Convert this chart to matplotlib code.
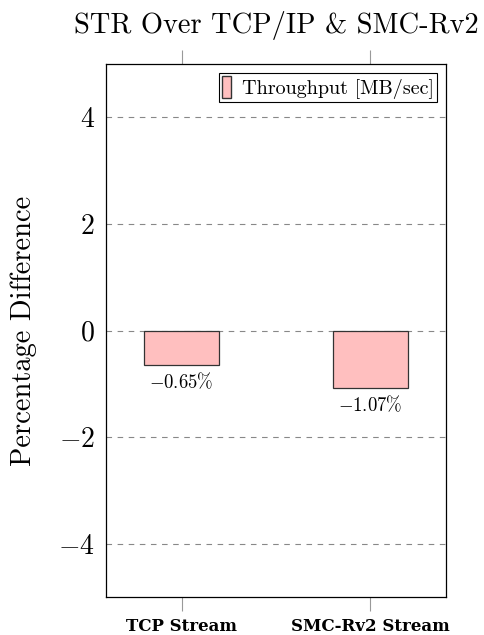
import numpy as np
import matplotlib
matplotlib.use("Agg")
import matplotlib.pyplot as plt
from matplotlib.patches import Patch

# --- data --- #
categories = ["TCP Stream", "SMC-Rv2 Stream"]
throughput_diff = [-0.65, -1.07]
y_ticks = [-4, -2, 0, 2, 4]

plt.rcParams["font.family"] = "cmr10"
plt.rcParams["mathtext.fontset"] = "cm"
plt.rcParams["axes.formatter.use_mathtext"] = True

fig = plt.figure(figsize=(4.84, 6.35), dpi=100)
ax = fig.add_axes([106/484, 1 - 597/635, 340/484, 533/635])

x = np.arange(len(categories))
bars = ax.bar(x, throughput_diff, width=0.4, color="#ffbfbf",
              edgecolor="#333333", linewidth=0.9, zorder=2)

# percentage labels under each bar
for xi, val in zip(x, throughput_diff):
    ax.annotate(r"$%.2f\%%$" % val, (xi, val), xytext=(0, -5),
                textcoords="offset points", ha="center", va="top",
                fontsize=13.5)

ax.set_xlim(-0.4, 1.4)
ax.set_ylim(-5, 5)
ax.set_yticks(y_ticks)
ax.set_xticks(x)
ax.set_xticklabels(categories, fontfamily="DejaVu Serif", fontweight="bold",
                   fontsize=12)
ax.yaxis.grid(True, linestyle=(0, (5, 5)), color="#888888", linewidth=0.8, zorder=0)
ax.set_axisbelow(True)

ax.tick_params(axis="y", length=0, labelsize=20, pad=8)
ax.tick_params(axis="x", direction="out", length=10, color="#999999",
               top=True, bottom=True, pad=5)
for s in ax.spines.values():
    s.set_linewidth(0.9)

ax.set_ylabel("Percentage Difference", fontsize=20.5, labelpad=15)
ax.set_title("STR Over TCP/IP & SMC-Rv2", fontsize=20.5, pad=22)

leg = ax.legend([Patch(facecolor="#ffbfbf", edgecolor="#333333")],
                ["Throughput [MB/sec]"], loc="upper right", fontsize=14.5,
                fancybox=False, edgecolor="black", framealpha=1,
                handlelength=0.45, handleheight=1.3, handletextpad=0.55,
                borderpad=0.15, borderaxespad=0.45)
leg.get_frame().set_linewidth(0.8)

fig.savefig("out.png", dpi=100)
